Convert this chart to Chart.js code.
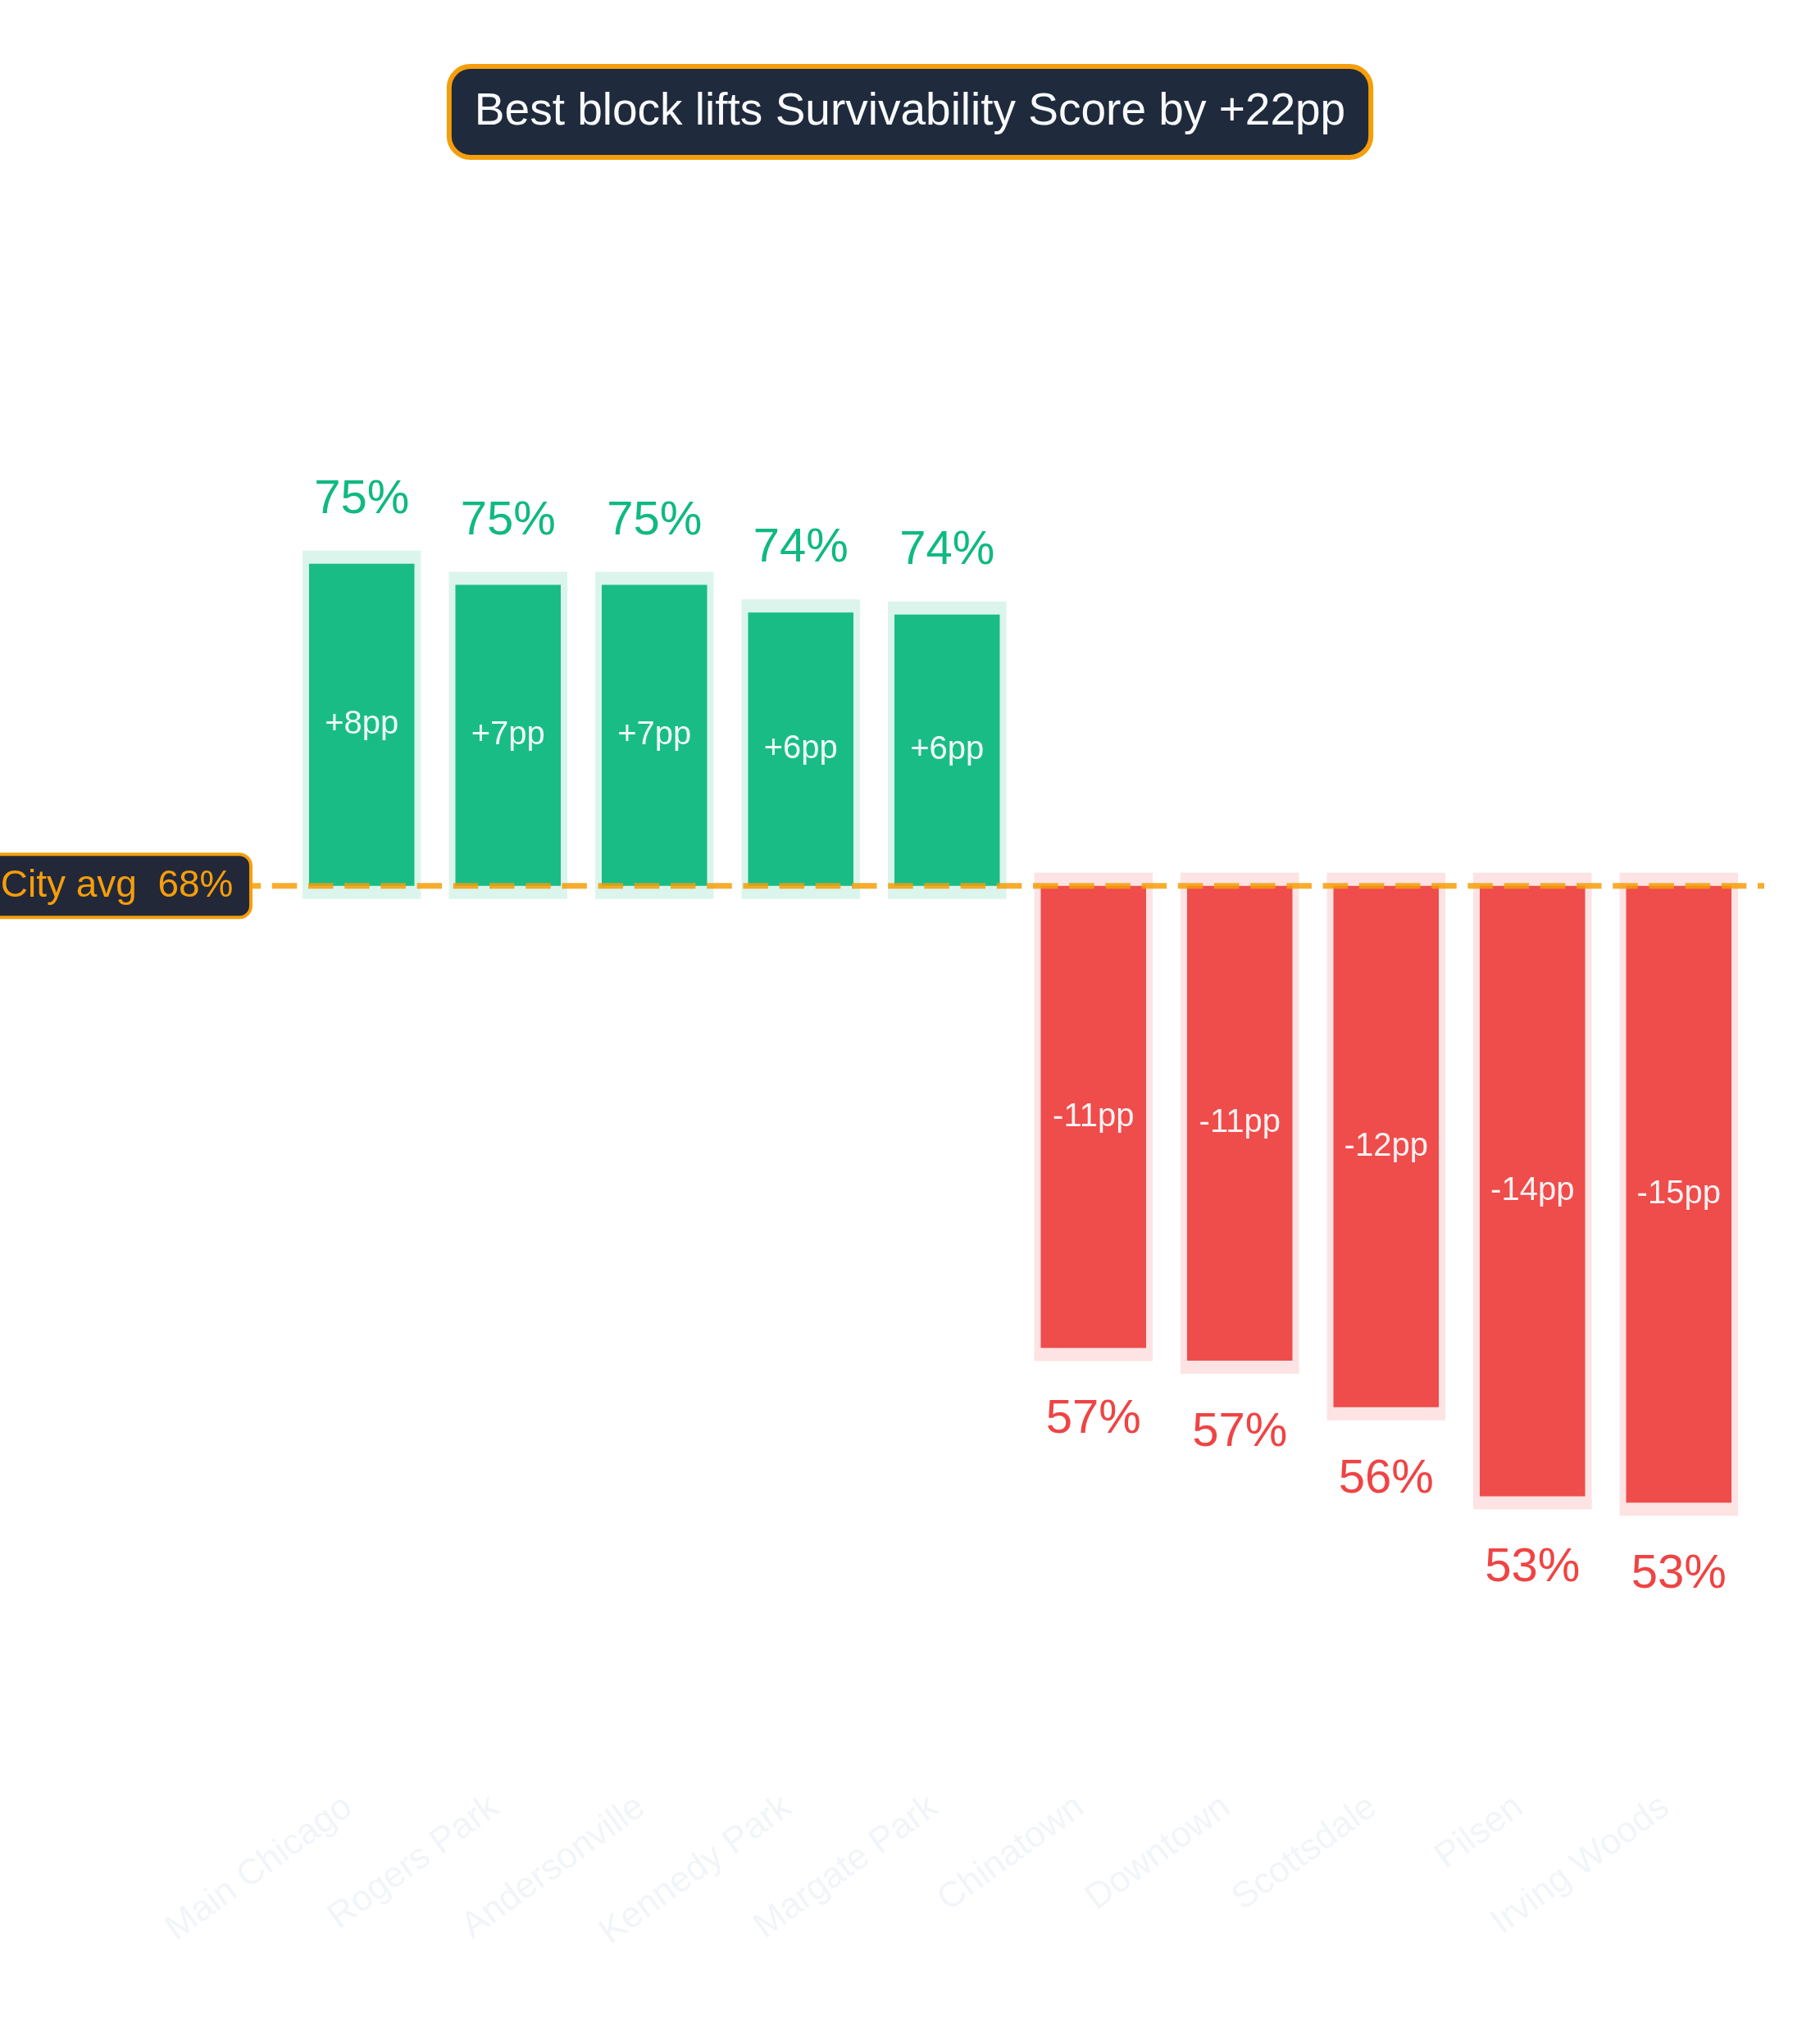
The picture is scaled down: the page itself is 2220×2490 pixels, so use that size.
<!DOCTYPE html>
<html>
<head>
<meta charset="utf-8">
<script src="https://cdn.jsdelivr.net/npm/chart.js@4.4.1/dist/chart.umd.min.js"></script>
<style>
  html, body { margin: 0; padding: 0; background: #ffffff; }
  #wrap { width: 2220px; height: 2490px; }
</style>
</head>
<body>
<div id="wrap"><canvas id="c" width="2220" height="2490"></canvas></div>
<script>
// ---- data ----
const neighborhoods = ["Main Chicago", "Rogers Park", "Andersonville", "Kennedy Park", "Margate Park",
                       "Chinatown", "Downtown", "Scottsdale", "Pilsen", "Irving Woods"];
const scores = [75.4, 74.9, 74.9, 74.25, 74.2, 56.9, 56.6, 55.5, 53.4, 53.25];
const cityAvg = 67.8;
const titleText = "Best block lifts Survivability Score by +22pp";
const avgLabelText = "City avg  " + Math.round(cityAvg) + "%";
const yMin = 46.62;
const yMax = 84;

// ---- styles ----
const FONT = "'Liberation Sans', Arial, Helvetica, sans-serif";
const GREEN = "rgba(16,185,129,0.95)";
const GREEN_FRAME = "rgba(16,185,129,0.15)";
const RED = "rgba(239,68,68,0.95)";
const RED_FRAME = "rgba(239,68,68,0.15)";
const AMBER = "#f59e0b";

const isUp = scores.map(v => v >= cityAvg);

const decorPlugin = {
  id: "decor",
  beforeDatasetsDraw(chart) {
    const ctx = chart.ctx;
    const meta = chart.getDatasetMeta(0);
    ctx.save();
    meta.data.forEach((bar, i) => {
      const p = bar.getProps(["x", "y", "base", "width"], true);
      const top = Math.min(p.y, p.base) - 16;
      const bottom = Math.max(p.y, p.base) + 16;
      ctx.fillStyle = isUp[i] ? GREEN_FRAME : RED_FRAME;
      ctx.fillRect(p.x - p.width / 2 - 8, top, p.width + 16, bottom - top);
    });
    ctx.restore();
  },
  afterDatasetsDraw(chart) {
    const ctx = chart.ctx;
    const area = chart.chartArea;
    const yScale = chart.scales.y;
    const meta = chart.getDatasetMeta(0);
    ctx.save();
    meta.data.forEach((bar, i) => {
      const p = bar.getProps(["x", "y", "base", "width"], true);
      const top = Math.min(p.y, p.base);
      const bottom = Math.max(p.y, p.base);
      const delta = Math.round(scores[i] - cityAvg);
      const dTxt = (delta > 0 ? "+" : "") + delta + "pp";
      ctx.font = "40px " + FONT;
      ctx.fillStyle = "rgba(255,255,255,0.93)";
      ctx.textAlign = "center";
      ctx.textBaseline = "middle";
      ctx.fillText(dTxt, p.x, (top + bottom) / 2);

      ctx.font = "58px " + FONT;
      ctx.textBaseline = "alphabetic";
      const vTxt = Math.round(scores[i]) + "%";
      if (isUp[i]) {
        ctx.fillStyle = "#10b981";
        ctx.fillText(vTxt, p.x, top - 62);
      } else {
        ctx.fillStyle = "#ef4444";
        ctx.fillText(vTxt, p.x, bottom + 104);
      }
    });
    const yAvg = yScale.getPixelForValue(cityAvg);
    ctx.beginPath();
    ctx.setLineDash([30.5, 13.7]);
    ctx.lineWidth = 7;
    ctx.strokeStyle = "rgba(245,158,11,0.85)";
    ctx.moveTo(area.left - 197, yAvg);
    ctx.lineTo(area.right + 15, yAvg);
    ctx.stroke();
    ctx.setLineDash([]);
    ctx.font = "46px " + FONT;
    const tw = ctx.measureText(avgLabelText).width;
    const right = area.left - 46;
    const w = tw + 43;
    const h = 77;
    const left = right - w;
    ctx.beginPath();
    ctx.roundRect(left, yAvg - h / 2, w, h, 14);
    ctx.fillStyle = "#232839";
    ctx.fill();
    ctx.lineWidth = 4;
    ctx.strokeStyle = AMBER;
    ctx.stroke();
    ctx.fillStyle = AMBER;
    ctx.textAlign = "center";
    ctx.textBaseline = "middle";
    ctx.fillText(avgLabelText, left + w / 2, yAvg + 1);
    ctx.restore();
  },
  afterDraw(chart) {
    const ctx = chart.ctx;
    ctx.save();
    ctx.font = "55px " + FONT;
    const tw = ctx.measureText(titleText).width;
    const cx = chart.width / 2;
    const bw = tw + 62;
    const bx = cx - bw / 2;
    ctx.beginPath();
    ctx.roundRect(bx, 81, bw, 111, 26);
    ctx.fillStyle = "#1f2a3c";
    ctx.fill();
    ctx.lineWidth = 6;
    ctx.strokeStyle = AMBER;
    ctx.stroke();
    ctx.fillStyle = "#f8fafc";
    ctx.textAlign = "center";
    ctx.textBaseline = "alphabetic";
    ctx.fillText(titleText, cx, 152);
    ctx.restore();
  }
};

new Chart(document.getElementById("c"), {
  type: "bar",
  data: {
    labels: neighborhoods,
    datasets: [{
      data: scores.map(v => [cityAvg, v]),
      backgroundColor: isUp.map(u => u ? GREEN : RED),
      borderWidth: 0,
      borderSkipped: false
    }]
  },
  options: {
    responsive: false,
    maintainAspectRatio: false,
    devicePixelRatio: 1,
    animation: false,
    layout: { padding: { left: 352, right: 83, top: 243, bottom: 0 } },
    plugins: {
      legend: { display: false },
      tooltip: { enabled: false },
      title: { display: false }
    },
    scales: {
      x: {
        grid: { display: false, drawTicks: false },
        border: { display: false },
        ticks: {
          color: "#f1f5f9",
          font: { family: FONT, size: 44 },
          minRotation: 36,
          maxRotation: 36,
          autoSkip: false,
          padding: 3,
          labelOffset: -16
        },
        afterFit(scale) { scale.height = 314; }
      },
      y: {
        display: false,
        min: yMin,
        max: yMax
      }
    }
  },
  plugins: [decorPlugin]
});
</script>
</body>
</html>
